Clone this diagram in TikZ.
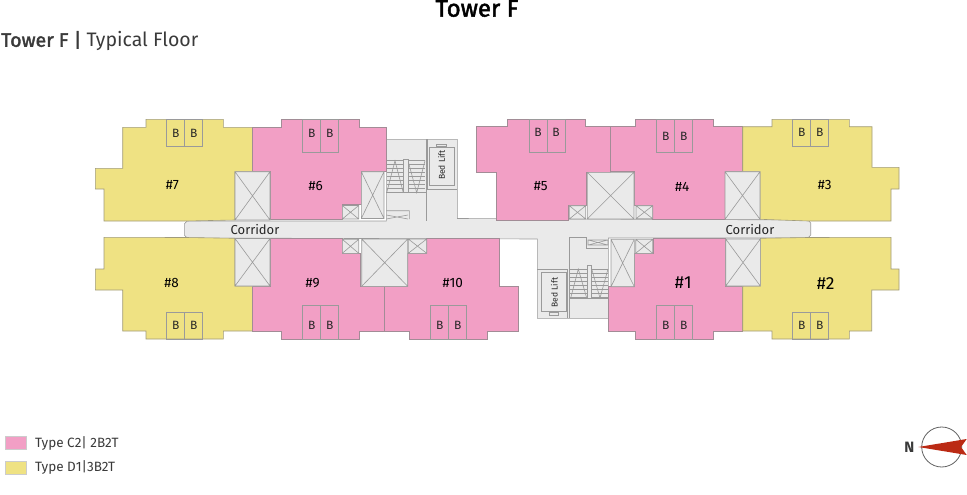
\documentclass[tikz,border=0pt]{standalone}
\usepackage{fontspec}
\setmainfont{Fira Sans}
\newfontfamily\semifont[FakeBold=2]{Fira Sans}
\definecolor{pinkunit}{HTML}{F29FC5}
\definecolor{yellowunit}{HTML}{EFE283}
\definecolor{coregray}{HTML}{EAEAEA}
\definecolor{wallgray}{HTML}{9A9A9A}
\definecolor{inkgray}{HTML}{3A3A3A}
\definecolor{needlered}{HTML}{BB2A14}
\tikzset{
	wall/.style={draw=wallgray, line width=.6pt, line join=miter},
	pinkflat/.style={wall, draw=wallgray!70!pinkunit!90!black, fill=pinkunit},
	yellowflat/.style={wall, draw=wallgray!60!yellowunit!85!black, fill=yellowunit},
	corebox/.style={wall, fill=coregray},
	flatno/.style={text=black, font=\fontsize{13.5}{14}\selectfont, inner sep=0pt},
	bigno/.style={text=black, font=\fontsize{17.5}{18}\selectfont, inner sep=0pt},
	bedroom/.style={text=black!85, font=\fontsize{12}{12}\selectfont, inner sep=0pt},
	corridorlabel/.style={text=black!85, font=\fontsize{13}{13}\selectfont, inner sep=0pt},
	liftlabel/.style={text=black!85, font=\fontsize{8.5}{9}\selectfont, inner sep=0pt, rotate=90},
	legendlabel/.style={text=inkgray, font=\fontsize{13.5}{14}\selectfont, inner sep=0pt, anchor=west}
}
\begin{document}
\begin{tikzpicture}[x=1pt, y=-1pt]
	\useasboundingbox (0,0) rectangle (967,495);

	\node[text=black, font=\fontsize{24}{24}\semifont, inner sep=0pt] (title) at (477,8.5) {Tower F};
	\node[text=inkgray, font=\fontsize{19.5}{20}\selectfont, inner sep=0pt, anchor=west] (subtitle) at (1,41) {{\semifont Tower F |} Typical Floor};

	\draw[corebox] (187,221) -- (386.3,221) -- (386.3,139.3) -- (457.3,139.3) -- (457.3,218.5) -- (808,220) -- (810.7,223) -- (810.7,235) -- (808,238) -- (608.3,238) -- (608.3,318.3) -- (537.3,318.3) -- (537.3,239) -- (187,238) -- (184.3,235) -- (184.3,224) -- cycle;

	\draw[yellowflat] (146,119.3) -- (223.3,119.3) -- (223.3,127.3) -- (252.3,127.3) -- (252.3,171.7) -- (235,171.7) -- (235,220) -- (186,221) -- (104,221) -- (104,189) -- (95.3,189) -- (95.3,168.3) -- (122.7,168.3) -- (122.7,127.3) -- (146,127.3) -- cycle;
	\draw[pinkflat] (281.7,119.3) -- (359.3,119.3) -- (359.3,127.3) -- (386.3,127.3) -- (386.3,171.7) -- (361.3,171.7) -- (361.3,204.3) -- (342.3,204.3) -- (342.3,219.3) -- (270,219.3) -- (270,171.7) -- (252.3,171.7) -- (252.3,127.3) -- (281.7,127.3) -- cycle;
	\draw[pinkflat] (507.7,119.3) -- (585.7,119.3) -- (585.7,126.7) -- (610.5,126.7) -- (610.5,172.3) -- (586.7,172.3) -- (586.7,205) -- (568.7,205) -- (568.7,220) -- (496.7,220) -- (496.7,172.3) -- (476.7,172.3) -- (476.7,126.7) -- (507.7,126.7) -- cycle;
	\draw[pinkflat] (635.7,119.3) -- (713.3,119.3) -- (713.3,126.7) -- (742.7,126.7) -- (742.7,171.7) -- (725,171.7) -- (725,219.3) -- (652.7,219.3) -- (652.7,205) -- (634.3,205) -- (634.3,171.7) -- (610.5,171.7) -- (610.5,126.7) -- (635.7,126.7) -- cycle;
	\draw[yellowflat] (772,119.3) -- (849.3,119.3) -- (849.3,126.7) -- (872,126.7) -- (872,167.3) -- (899,167.3) -- (899,189) -- (891,189) -- (891,221) -- (808,221) -- (760,219.3) -- (760,171.7) -- (742.7,171.7) -- (742.7,126.7) -- (772,126.7) -- cycle;

	\draw[yellowflat] (104,237.3) -- (186,237.5) -- (235,238.3) -- (235,286) -- (252.3,286) -- (252.3,331) -- (223.3,331) -- (223.3,339) -- (146,339) -- (146,331) -- (122.7,331) -- (122.7,290) -- (95.3,290) -- (95.3,269) -- (104,269) -- cycle;
	\draw[pinkflat] (270,238.3) -- (342.3,238.3) -- (342.3,253.3) -- (360.7,253.3) -- (360.7,286) -- (384.5,286) -- (384.5,331.5) -- (359.3,331.5) -- (359.3,339) -- (281.7,339) -- (281.7,331) -- (252.3,331) -- (252.3,286) -- (270,286) -- cycle;
	\draw[pinkflat] (384.5,286.3) -- (407.7,286.3) -- (407.7,253.3) -- (426.7,253.3) -- (426.7,238.3) -- (499,238.3) -- (499,286.3) -- (518.3,286.3) -- (518.3,331.7) -- (487.7,331.7) -- (487.7,339.3) -- (409.7,339.3) -- (409.7,331.7) -- (384.5,331.7) -- cycle;
	\draw[pinkflat] (653.3,238.3) -- (725,238.3) -- (725,286) -- (742.7,286) -- (742.7,331) -- (713.3,331) -- (713.3,339) -- (635.7,339) -- (635.7,331) -- (608.3,331) -- (608.3,286.7) -- (634.3,286.7) -- (634.3,253.3) -- (653.3,253.3) -- cycle;
	\draw[yellowflat] (760.3,238.3) -- (808,237.5) -- (891,237.3) -- (891,269) -- (899,269) -- (899,290) -- (871.7,290) -- (871.7,331) -- (849.3,331) -- (849.3,339) -- (772,339) -- (772,331) -- (742.7,331) -- (742.7,286) -- (760.3,286) -- cycle;

	\foreach \xa/\ya/\xb/\yb in {235/171.7/270/220, 361.3/171.7/384/218.5, 342.3/205.5/358.7/219, 587.3/172.3/634/219, 569.3/205.7/585.7/219, 636/205.7/652.7/218.7, 725/171.7/760/219.3, 235/238.5/270/286, 342.3/239.3/358.7/253.3, 361.7/239/407.7/286.3, 408.3/239/426.7/253.3, 611/239.3/634.3/286.7, 635.7/239.3/652.7/253.3, 725.7/239/760.3/286}
		\draw[corebox] (\xa,\ya) rectangle (\xb,\yb) (\xa,\ya) -- (\xb,\yb) (\xa,\yb) -- (\xb,\ya);

	\draw[wall] (426,139.3) -- (426,221) (427.3,139.3) -- (427.3,189) -- (457.3,189) (386.3,192.7) -- (427.3,192.7);
	\draw[corebox, line width=1pt] (429.3,147.7) rectangle (454.3,185);
	\draw[corebox] (436.7,144) rectangle (446,146.7);
	\draw[wall] (386.3,210.7) -- (409.3,210.7) -- (409.3,219) (386.3,215) -- (408,219) (386.3,219) -- (408,215);
	\foreach \ty in {160.7,164.7,...,192.7} {
		\draw[wall] (386.7,\ty) -- (403.3,\ty) (408,\ty) -- (425,\ty);
	}
	\draw[wall] (386.7,192.7) -- (395,160.7) -- (403.3,192.7) (408,160.7) -- (416.7,192.7) -- (425,160.7);
	\draw[wall, fill=coregray] (403.3,159.3) rectangle (408,192.7);
	\node[liftlabel] (bedlifttop) at (441.7,165) {Bed Lift};

	\draw[wall] (567.7,269.3) -- (537.3,269.3) (567.7,269.3) -- (567.7,318.3) (569.7,237) -- (569.7,318.3) (569.7,237) -- (586,237) -- (586,248) -- (608.3,248) (569.7,298.3) -- (608.3,298.3);
	\draw[corebox, line width=1pt] (541.3,272.7) rectangle (566.7,311);
	\draw[corebox] (549,312.5) rectangle (558,315);
	\draw[wall] (588,240) rectangle (608,245) (588,240) -- (608,245) (588,245) -- (608,240);
	\foreach \ty in {269,273,...,297} {
		\draw[wall] (570,\ty) -- (587,\ty) (591,\ty) -- (608,\ty);
	}
	\draw[wall] (570.7,298) -- (578.3,269) -- (586.7,298) (591.7,269) -- (600,298) -- (608,269);
	\draw[wall, fill=coregray] (587,265) rectangle (591,298.3);
	\node[liftlabel] (bedliftlow) at (554.3,292.7) {Bed Lift};

	\foreach \n/\xa/\ya/\yb/\ty in {a/166.7/119.3/146/133.3, b/302.7/119.3/152.3/133.3, c/529/119.3/152.3/132.7, d/656.7/119.3/152.3/136, e/792.7/119.3/146/132.7, f/166.7/312.3/339/325.3, g/302.7/305.7/339/325.3, h/430.7/305.3/339.3/325, i/656.7/305.7/339/325.3, j/792.7/312.3/339/325.3} {
		\draw[wall] (\xa,\ya) rectangle ++(18,\yb-\ya) (\xa+18,\ya) rectangle ++(18,\yb-\ya);
		\node[bedroom] (bed\n1) at (\xa+9,\ty) {B};
		\node[bedroom] (bed\n2) at (\xa+27,\ty) {B};
	}

	\node[flatno] (flat7) at (172.3,185) {\#7};
	\node[flatno] (flat6) at (315.7,186) {\#6};
	\node[flatno] (flat5) at (540.7,186) {\#5};
	\node[flatno] (flat4) at (682.3,186.7) {\#4};
	\node[flatno] (flat3) at (824.7,185) {\#3};
	\node[flatno] (flat8) at (171.7,283.3) {\#8};
	\node[flatno] (flat9) at (312.7,283.3) {\#9};
	\node[flatno] (flat10) at (452.7,283.3) {\#10};
	\node[bigno] (flat1) at (683.3,282.7) {\#1};
	\node[bigno] (flat2) at (825.7,283.3) {\#2};
	\node[corridorlabel] (corridorw) at (255,230) {Corridor};
	\node[corridorlabel] (corridore) at (750,230) {Corridor};

	\draw[draw=white!80!black, fill=pinkunit] (5,436.3) rectangle (25.7,449.3);
	\draw[draw=white!80!black, fill=yellowunit] (5,460.7) rectangle (25.7,473.7);
	\node[legendlabel] (legendc) at (35,443) {Type C2| 2B2T};
	\node[legendlabel] (legendd) at (35,467) {Type D1|3B2T};

	\draw[draw=inkgray!80, line width=.8pt] (941.7,447) circle (20);
	\fill[needlered] (918.3,447) -- (966.7,439) -- (961,447) -- (966.7,455) -- cycle;
	\node[text=inkgray, font=\fontsize{15}{15}\selectfont\bfseries, inner sep=0pt] (north) at (909.3,447) {N};
\end{tikzpicture}
\end{document}
